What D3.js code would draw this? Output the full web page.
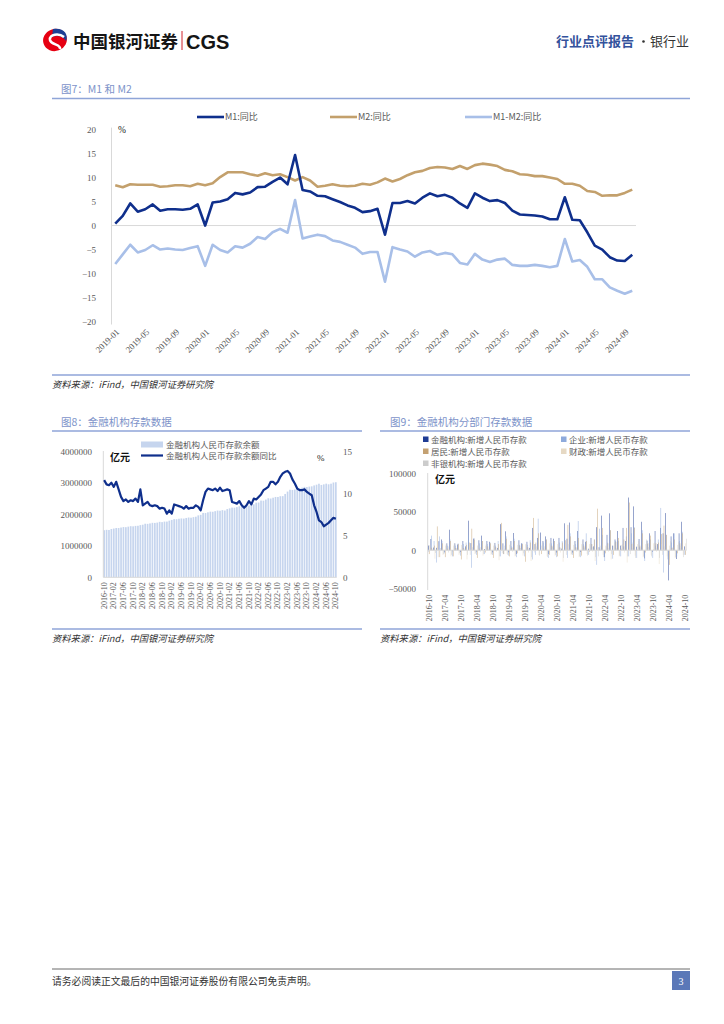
<!DOCTYPE html>
<html>
<head>
<meta charset="utf-8">
<script src="https://cdn.jsdelivr.net/npm/d3@7"></script>
<style>body{margin:0;background:#fff}svg{display:block}</style>
</head>
<body>
<svg id="page"></svg>
<script>
// ---- data ----
// Fig 7: M1 / M2 YoY (%), 2019-01 .. 2024-10
const m1Yoy = [0.4, 2.0, 4.6, 2.9, 3.4, 4.4, 3.1, 3.4, 3.4, 3.3, 3.5, 4.4,
  0.0, 4.8, 5.0, 5.5, 6.8, 6.5, 6.9, 8.0, 8.1, 9.1, 10.0, 8.6,
  14.7, 7.4, 7.1, 6.2, 6.1, 5.5, 4.9, 4.2, 3.7, 2.8, 3.0, 3.5,
  -1.9, 4.7, 4.7, 5.1, 4.6, 5.8, 6.7, 6.1, 6.4, 5.8, 4.6, 3.7,
  6.7, 5.8, 5.1, 5.3, 4.7, 3.1, 2.3, 2.2, 2.1, 1.9, 1.3, 1.3,
  5.9, 1.2, 1.1, -1.4, -4.2, -5.0, -6.6, -7.3, -7.4, -6.1];
const m2Yoy = [8.4, 8.0, 8.6, 8.5, 8.5, 8.5, 8.1, 8.2, 8.4, 8.4, 8.2, 8.7,
  8.4, 8.8, 10.1, 11.1, 11.1, 11.1, 10.7, 10.4, 10.9, 10.5, 10.7, 10.1,
  9.4, 10.1, 9.4, 8.1, 8.3, 8.6, 8.3, 8.2, 8.3, 8.7, 8.5, 9.0,
  9.8, 9.2, 9.7, 10.5, 11.1, 11.4, 12.0, 12.2, 12.1, 11.8, 12.4, 11.8,
  12.6, 12.9, 12.7, 12.4, 11.6, 11.3, 10.7, 10.6, 10.3, 10.3, 10.0, 9.7,
  8.7, 8.7, 8.3, 7.2, 7.0, 6.2, 6.3, 6.3, 6.8, 7.5];
const gapYoy = [-8.0, -6.0, -4.0, -5.6, -5.1, -4.1, -5.0, -4.8, -5.0, -5.1, -4.7, -4.3,
  -8.4, -4.0, -5.1, -5.6, -4.3, -4.6, -3.8, -2.4, -2.8, -1.4, -0.7, -1.5,
  5.3, -2.7, -2.3, -1.9, -2.2, -3.1, -3.4, -4.0, -4.6, -5.9, -5.5, -5.5,
  -11.7, -4.5, -5.0, -5.4, -6.5, -5.6, -5.3, -6.1, -5.7, -6.0, -7.8, -8.1,
  -5.9, -7.1, -7.6, -7.1, -6.9, -8.2, -8.4, -8.4, -8.2, -8.4, -8.7, -8.4,
  -2.8, -7.5, -7.2, -8.6, -11.2, -11.2, -12.9, -13.6, -14.2, -13.6];
const ticks7 = [20, 15, 10, 5, 0, -5, -10, -15, -20];

// Fig 8: RMB deposit balance (亿元) and YoY (%), 2016-10 .. 2024-10
const depBalance = [1500000, 1512000, 1506000,
  1538000, 1553000, 1570000, 1569000, 1585000, 1600000, 1596000, 1613000, 1628000, 1623000, 1637000, 1641000,
  1662000, 1675000, 1706000, 1702000, 1716000, 1735000, 1732000, 1742000, 1766000, 1757000, 1774000, 1775000,
  1804000, 1827000, 1853000, 1850000, 1865000, 1875000, 1870000, 1890000, 1904000, 1898000, 1916000, 1929000,
  1972000, 1989000, 2050000, 2046000, 2070000, 2091000, 2087000, 2106000, 2126000, 2120000, 2139000, 2126000,
  2173000, 2196000, 2220000, 2217000, 2236000, 2262000, 2256000, 2276000, 2290000, 2285000, 2304000, 2323000,
  2377000, 2381000, 2444000, 2440000, 2476000, 2517000, 2509000, 2535000, 2559000, 2558000, 2583000, 2585000,
  2654000, 2730000, 2788000, 2781000, 2796000, 2836000, 2833000, 2855000, 2880000, 2875000, 2889000, 2897000,
  2926000, 2950000, 2980000, 2941000, 2960000, 2982000, 2962000, 2981000, 3019000, 3028000];
const depYoy = [11.6, 11.1, 11.0,
  11.3, 10.8, 11.4, 10.5, 9.6, 9.1, 9.3, 9.0, 9.2, 9.1, 9.4, 9.0,
  10.5, 8.6, 8.8, 9.0, 8.6, 8.5, 8.6, 8.5, 8.2, 8.3, 8.2, 7.6,
  8.0, 7.6, 8.7, 8.6, 8.5, 8.4, 8.2, 8.5, 8.2, 8.3, 8.3, 8.6,
  8.4, 8.0, 9.2, 10.2, 10.6, 10.5, 10.4, 10.6, 10.3, 10.7, 10.3, 10.4,
  10.5, 10.4, 9.0, 8.9, 8.8, 9.1, 8.6, 8.3, 8.6, 9.1, 8.7, 9.4,
  9.3, 9.6, 9.9, 10.4, 10.6, 10.8, 11.4, 11.4, 11.1, 11.4, 12.0, 12.4,
  12.6, 12.7, 12.4, 11.7, 11.2, 10.6, 10.4, 10.4, 10.5, 10.2, 10.0, 9.8,
  8.6, 7.8, 6.8, 6.6, 6.1, 6.3, 6.5, 6.8, 7.1, 7.0];
const ticks8L = [0, 1000000, 2000000, 3000000, 4000000];
const ticks8R = [0, 5, 10, 15];

// Fig 9: new RMB deposits by sector (亿元), 2016-10 .. 2024-10
const newTotal = [6100, 14600, 3500,
  3100, 11800, 14000, -2000, 9000, 26700, -1200, 9000, 7500, -2300, 12000, 5000,
  38400, 9300, 15000, -1700, 13000, 19000, 1600, 12000, 11000, -2700, 9500, 3000,
  33900, 9000, 24600, -2700, 12000, 22400, -4900, 13000, 9000, -1000, 11000, 3000,
  29000, 8000, 16000, 23000, 12000, 18000, -5000, 16000, 15000, -3000, 16000, 2000,
  35000, 15000, 36000, -3000, 12000, 25000, -2200, 14000, 11000, 2000, 16000, 5000,
  30000, 4000, 45000, -9000, 20000, 48000, 6000, 14000, 25000, 6000, 29000, 12000,
  68500, 30000, 57000, 4600, 14600, 37000, -10600, 12500, 22000, -2000, 25000, 8000,
  29000, 22000, 48300, -39200, 18000, 22000, -11400, 22000, 37000, 5000];
const newCorp = [-1800, 19000, 12000,
  -16000, 18000, 12000, -4000, 6000, 14000, -8000, 6000, 9000, -7000, 8000, 10000,
  20000, -22800, 16000, -6000, 9000, 12000, -5000, 8000, 10000, -6000, 6000, 12000,
  -8000, -5000, 18000, -7000, 5000, 15000, -9000, 7000, 9000, -8000, 7000, 13000,
  -12000, -6000, 41000, 10000, 10000, 14000, -10000, 9000, 12000, -9000, 10000, 12000,
  20000, -10000, 22000, -6000, 8000, 38000, -9000, 8000, 22000, -6000, 8000, 14000,
  -19000, 28000, 20000, -14000, 10000, 26000, -11000, 12000, 12000, -8000, 5000, 18000,
  -8000, 22000, 30000, -10000, 4000, 26000, -14000, 8000, 14000, -10000, 6000, 14000,
  55000, -29000, 20000, -12000, 10000, 22000, -8000, 12000, 24000, -6000];
const newHouse = [-5000, 3300, 6000,
  31000, -9000, 9000, -9000, 2000, 12000, -8000, 3000, 8000, -12000, 3000, 7000,
  10000, 28000, 14000, -10000, 2000, 12000, -3000, 5000, 9000, -10000, 4000, 8000,
  35600, -5000, 15000, -8000, 3000, 12000, -4000, 6000, 8000, -15000, 4000, 10000,
  42000, 10000, 22000, -5000, 2000, 14000, -6000, 6000, 12000, -8000, 4000, 10000,
  13000, 33000, 18000, -10000, 4000, 16000, -7000, 6000, 12000, -2000, 8000, 14000,
  54000, 2000, 29000, -4000, 9000, 26000, -6000, 11000, 16000, 2000, 14000, 29000,
  62000, 8000, 29000, 1000, 6000, 22000, -3000, 9000, 19000, 1000, 9000, 10000,
  21000, 32000, 20000, -19000, 3000, 14000, -4000, 9000, 22000, -6000];
const newFiscal = [6400, -1000, -11000,
  5000, 2500, -6000, 6000, 5000, -8000, 6000, 3000, -6000, 7000, -1000, -12000,
  8000, 1000, -5000, 6000, 4000, -7000, 6000, 2000, -6000, 6000, -2000, -13000,
  9000, 2000, -5000, 7000, 4000, -8000, 7000, 3000, -7000, 8000, -3000, -14000,
  7000, 1000, -6000, 6000, 5000, -8000, 9000, 5000, -7000, 8000, -3000, -15000,
  8000, 2000, -6000, 7000, 3000, -9000, 8000, 4000, -5000, 8000, -2000, -14000,
  9000, 1000, -6000, 6000, -2000, -12000, 6000, 3000, -8000, 7000, -3000, -16000,
  7000, 3000, -7000, 8000, 4000, -9000, 8000, 4000, -6000, 9000, -2000, -18000,
  8000, 2000, -8000, 6000, 3000, -10000, 7000, 3000, -6000, 9000];
const newNonbank = [6600, 1500, -3600,
  -9000, 3000, -5000, 8000, -3000, -6000, 9000, 2000, -4000, 7000, 1000, -6000,
  -6000, 4000, -4000, 7000, -2000, -5000, 8000, 1000, -5000, 9000, -1000, -8000,
  -4000, 6000, -6000, 8000, -2000, -7000, 10000, 3000, -4000, 7000, 2000, -9000,
  -3000, 5000, -7000, 9000, -1000, -9000, 12000, 4000, -6000, 10000, 3000, -10000,
  -6000, 8000, -5000, 11000, -2000, -8000, 12000, 3000, -7000, 9000, 4000, -9000,
  -8000, 6000, -9000, 5000, 3000, -5000, 10000, 2000, -7000, 8000, 5000, -8000,
  -5000, 10000, -10000, 12000, 2000, -8000, 14000, 4000, -8000, 10000, 3000, -10000,
  -6000, 5000, -12000, 12000, 4000, -9000, 11000, 6000, -9000, 15000];
const ticks9 = [-50000, 0, 50000, 100000];
const sectorNames = ["金融机构:新增人民币存款", "企业:新增人民币存款", "居民:新增人民币存款",
  "财政:新增人民币存款", "非银机构:新增人民币存款"];

// month category labels
const fmtMonth = d3.timeFormat("%Y-%m");
const months7 = d3.timeMonth.range(new Date(2019, 0, 1), new Date(2024, 10, 1)).map(fmtMonth);
const months8 = d3.timeMonth.range(new Date(2016, 9, 1), new Date(2024, 10, 1)).map(fmtMonth);

// ---- style ----
const cjk = '"Noto Sans CJK SC", "Noto Sans", sans-serif';
const serifNum = '"Liberation Serif", "DejaVu Serif", serif';
const navy = "#0f2f8c", tan = "#c3a06c", lightBlue = "#a8bfe8";
const titleBlue = "#7d93c9", ruleBlue = "#8fa5d8", tickGrey = "#595959";

const svg = d3.select("#page")
    .attr("width", 724).attr("height", 1024)
    .attr("viewBox", [0, 0, 724, 1024]);
svg.append("rect").attr("width", 724).attr("height", 1024).attr("fill", "#fff");

// ---- header ----
const logo = svg.append("g").attr("transform", "translate(55,40)");
logo.append("ellipse").attr("rx", 12).attr("ry", 11).attr("fill", "#e60012")
    .attr("transform", "rotate(-20)");
logo.append("path").attr("d", "M-2,-11 C8,-13 14,-6 11,1 C8,-4 2,-5 -3,-3 Z").attr("fill", "#1d3f94");
logo.append("path").attr("d", "M9,-3 C4,-7 -6,-6 -5,0 C-4,5 6,4 5,9")
    .attr("fill", "none").attr("stroke", "#fff").attr("stroke-width", 2.6);

svg.append("text").attr("x", 73).attr("y", 48).text("中国银河证券")
    .attr("font-family", cjk).attr("font-weight", 700).attr("font-size", 17.5).attr("fill", "#151515");
svg.append("line").attr("x1", 182).attr("x2", 182).attr("y1", 31).attr("y2", 50)
    .attr("stroke", "#d2232a").attr("stroke-width", 1);
svg.append("text").attr("x", 186).attr("y", 48.5).text("CGS")
    .attr("font-family", '"Liberation Sans", Arial, sans-serif').attr("font-weight", 700)
    .attr("font-size", 20).attr("fill", "#151515");

svg.append("text").attr("x", 556).attr("y", 46).text("行业点评报告")
    .attr("font-family", cjk).attr("font-weight", 700).attr("font-size", 13).attr("fill", "#33529c");
svg.append("circle").attr("cx", 643.5).attr("cy", 41.5).attr("r", 1.3).attr("fill", "#333");
svg.append("text").attr("x", 650).attr("y", 46).text("银行业")
    .attr("font-family", cjk).attr("font-size", 13).attr("fill", "#333");

// section helpers
function figTitle(x, y, x1, x2, label) {
  svg.append("text").attr("x", x).attr("y", y).text(label)
      .attr("font-family", cjk).attr("font-size", 10.5).attr("fill", titleBlue);
  svg.append("line").attr("x1", x1).attr("x2", x2).attr("y1", y + 5.5).attr("y2", y + 5.5)
      .attr("stroke", ruleBlue).attr("stroke-width", 1.5);
}
function sourceNote(x1, x2, y) {
  svg.append("line").attr("x1", x1).attr("x2", x2).attr("y1", y).attr("y2", y)
      .attr("stroke", ruleBlue).attr("stroke-width", 1.5);
  svg.append("text").attr("x", x1).attr("y", y + 13).text("资料来源：iFind，中国银河证券研究院")
      .attr("font-family", cjk).attr("font-size", 9.3).attr("font-style", "italic").attr("fill", "#333");
}

// ---- Fig 7 ----
figTitle(61, 93, 52, 690, "图7：M1 和 M2");

const x7 = d3.scaleBand().domain(months7).range([111.5, 636]);
const y7 = d3.scaleLinear().domain([-20, 20]).range([321.5, 129.6]);
const cx7 = d => x7(d) + x7.bandwidth() / 2;

svg.append("line").attr("x1", 111.5).attr("x2", 111.5).attr("y1", y7(20) - 2).attr("y2", y7(-20) + 3)
    .attr("stroke", "#d9d9d9");
svg.append("line").attr("x1", 111.5).attr("x2", 636).attr("y1", y7(0)).attr("y2", y7(0))
    .attr("stroke", "#d9d9d9");

svg.append("g")
    .attr("transform", "translate(96,0)")
    .call(d3.axisLeft(y7).tickValues(ticks7).tickSize(0).tickPadding(0))
    .call(g => g.select(".domain").remove())
    .call(g => g.selectAll("text").attr("font-family", serifNum).attr("font-size", 9).attr("fill", tickGrey));
svg.append("text").attr("x", 118).attr("y", 133).text("%")
    .attr("font-family", serifNum).attr("font-size", 9.5).attr("fill", "#222");

svg.append("g")
    .attr("transform", "translate(0,325)")
    .call(d3.axisBottom(x7).tickValues(months7.filter((d, i) => i % 4 === 0)).tickSize(0))
    .call(g => g.select(".domain").remove())
    .call(g => g.selectAll("text")
        .attr("font-family", serifNum).attr("font-size", 8.8).attr("fill", tickGrey)
        .attr("text-anchor", "end").attr("x", -2).attr("y", 6).attr("dy", "0.3em")
        .attr("transform", "rotate(-45)"));

const series7 = [
  {name: "M1:同比", values: m1Yoy, color: navy},
  {name: "M2:同比", values: m2Yoy, color: tan},
  {name: "M1-M2:同比", values: gapYoy, color: lightBlue}
];
const line7 = d3.line().x((d, i) => cx7(months7[i])).y(d => y7(d));
svg.append("g").selectAll("path")
  .data(series7.slice().reverse())
  .join("path")
    .attr("d", s => line7(s.values))
    .attr("fill", "none").attr("stroke", s => s.color)
    .attr("stroke-width", 2.6).attr("stroke-linejoin", "round");

const leg7x = [197, 330, 465];
series7.forEach((s, i) => {
  svg.append("line").attr("x1", leg7x[i]).attr("x2", leg7x[i] + 27).attr("y1", 117).attr("y2", 117)
      .attr("stroke", s.color).attr("stroke-width", 2.6);
  svg.append("text").attr("x", leg7x[i] + 28).attr("y", 120.3).text(s.name)
      .attr("font-family", cjk).attr("font-size", 9).attr("fill", tickGrey);
});

sourceNote(52, 690, 375);

// ---- Fig 8 ----
figTitle(61, 425.5, 52, 362, "图8：金融机构存款数据");

const x8 = d3.scaleBand().domain(months8).range([103.3, 336.7]).paddingInner(0.3);
const y8L = d3.scaleLinear().domain([0, 4000000]).range([577.3, 451.7]);
const y8R = d3.scaleLinear().domain([0, 15]).range([577.3, 451.7]);

svg.append("g").selectAll("rect")
  .data(depBalance)
  .join("rect")
    .attr("x", (d, i) => x8(months8[i]))
    .attr("width", x8.bandwidth())
    .attr("y", d => y8L(d))
    .attr("height", d => y8L(0) - y8L(d))
    .attr("fill", "#c6d5ee");

svg.append("line").attr("x1", 103.3).attr("x2", 103.3).attr("y1", 451).attr("y2", 577.3).attr("stroke", "#d9d9d9");
svg.append("line").attr("x1", 103.3).attr("x2", 336.7).attr("y1", 577.3).attr("y2", 577.3).attr("stroke", "#d9d9d9");

svg.append("path")
    .attr("d", d3.line().x((d, i) => x8(months8[i]) + x8.bandwidth() / 2).y(d => y8R(d))(depYoy))
    .attr("fill", "none").attr("stroke", navy).attr("stroke-width", 2.2).attr("stroke-linejoin", "round");

svg.append("g")
    .attr("transform", "translate(92,0)")
    .call(d3.axisLeft(y8L).tickValues(ticks8L).tickSize(0).tickPadding(0).tickFormat(d3.format("d")))
    .call(g => g.select(".domain").remove())
    .call(g => g.selectAll("text").attr("font-family", serifNum).attr("font-size", 9).attr("fill", tickGrey));
svg.append("g")
    .attr("transform", "translate(343,0)")
    .call(d3.axisRight(y8R).tickValues(ticks8R).tickSize(0).tickPadding(0))
    .call(g => g.select(".domain").remove())
    .call(g => g.selectAll("text").attr("font-family", serifNum).attr("font-size", 9).attr("fill", tickGrey));

svg.append("g")
    .attr("transform", "translate(0,577.3)")
    .call(d3.axisBottom(x8).tickValues(months8.filter((d, i) => i % 4 === 0)).tickSize(0))
    .call(g => g.select(".domain").remove())
    .call(g => g.selectAll("text")
        .attr("font-family", serifNum).attr("font-size", 8).attr("fill", tickGrey)
        .attr("text-anchor", "end").attr("x", -5).attr("y", 0).attr("dy", "0.32em")
        .attr("transform", "rotate(-90)"));

svg.append("text").attr("x", 110).attr("y", 461).text("亿元")
    .attr("font-family", cjk).attr("font-weight", 700).attr("font-size", 10).attr("fill", "#111");
svg.append("text").attr("x", 317).attr("y", 461).text("%")
    .attr("font-family", serifNum).attr("font-size", 9).attr("fill", "#222");

svg.append("rect").attr("x", 141).attr("y", 441.5).attr("width", 22).attr("height", 6).attr("fill", "#c6d5ee");
svg.append("text").attr("x", 166).attr("y", 447.5).text("金融机构人民币存款余额")
    .attr("font-family", cjk).attr("font-size", 8.5).attr("fill", tickGrey);
svg.append("line").attr("x1", 141).attr("x2", 163).attr("y1", 455.5).attr("y2", 455.5)
    .attr("stroke", navy).attr("stroke-width", 2.2);
svg.append("text").attr("x", 166).attr("y", 458.5).text("金融机构人民币存款余额同比")
    .attr("font-family", cjk).attr("font-size", 8.5).attr("fill", tickGrey);

sourceNote(52, 362, 629);

// ---- Fig 9 ----
figTitle(390, 425.5, 380, 690, "图9：金融机构分部门存款数据");

const sectors = [
  {name: sectorNames[0], values: newTotal, color: "#1f3c94"},
  {name: sectorNames[1], values: newCorp, color: "#8eaadc"},
  {name: sectorNames[2], values: newHouse, color: "#c4a172"},
  {name: sectorNames[3], values: newFiscal, color: "#e6d9c4"},
  {name: sectorNames[4], values: newNonbank, color: "#cccccc"}
];
const x9 = d3.scaleBand().domain(months8).range([428, 686.5]).paddingInner(0.12);
const x9s = d3.scaleBand().domain(d3.range(sectors.length)).range([0, x9.bandwidth()]);
const y9 = d3.scaleLinear().domain([-50000, 100000]).range([588.7, 473.3]);

svg.append("line").attr("x1", 427.7).attr("x2", 427.7).attr("y1", 473).attr("y2", 590).attr("stroke", "#d9d9d9");

svg.append("g").selectAll("g")
  .data(sectors)
  .join("g")
    .attr("fill", s => s.color)
  .selectAll("rect")
  .data((s, k) => s.values.map((v, i) => ({v, i, k})))
  .join("rect")
    .attr("x", d => x9(months8[d.i]) + x9s(d.k))
    .attr("width", x9s.bandwidth())
    .attr("y", d => y9(Math.max(0, d.v)))
    .attr("height", d => Math.abs(y9(d.v) - y9(0)));

svg.append("line").attr("x1", 427.7).attr("x2", 686.5).attr("y1", y9(0)).attr("y2", y9(0))
    .attr("stroke", "#d9d9d9");

svg.append("g")
    .attr("transform", "translate(416,0)")
    .call(d3.axisLeft(y9).tickValues(ticks9).tickSize(0).tickPadding(0).tickFormat(d3.format("d")))
    .call(g => g.select(".domain").remove())
    .call(g => g.selectAll("text").attr("font-family", serifNum).attr("font-size", 9).attr("fill", tickGrey));

svg.append("g")
    .attr("transform", "translate(0,588.7)")
    .call(d3.axisBottom(x9).tickValues(months8.filter((d, i) => i % 6 === 0)).tickSize(0))
    .call(g => g.select(".domain").remove())
    .call(g => g.selectAll("text")
        .attr("font-family", serifNum).attr("font-size", 8).attr("fill", tickGrey)
        .attr("text-anchor", "end").attr("x", -6).attr("y", 0).attr("dy", "0.32em")
        .attr("transform", "rotate(-90)"));

svg.append("text").attr("x", 435).attr("y", 483).text("亿元")
    .attr("font-family", cjk).attr("font-weight", 700).attr("font-size", 10).attr("fill", "#111");

const leg9 = [[423, 439.5], [561, 439.5], [423, 451.5], [561, 451.5], [423, 463.5]];
sectors.forEach((s, i) => {
  svg.append("rect").attr("x", leg9[i][0]).attr("y", leg9[i][1] - 3).attr("width", 5.5).attr("height", 5.5)
      .attr("fill", s.color);
  svg.append("text").attr("x", leg9[i][0] + 8).attr("y", leg9[i][1] + 3).text(s.name)
      .attr("font-family", cjk).attr("font-size", 8.5).attr("fill", tickGrey);
});

sourceNote(380, 690, 629);

// ---- footer ----
svg.append("line").attr("x1", 52).attr("x2", 690).attr("y1", 969).attr("y2", 969)
    .attr("stroke", "#6b6b6b").attr("stroke-width", 1);
svg.append("text").attr("x", 52).attr("y", 985).text("请务必阅读正文最后的中国银河证券股份有限公司免责声明。")
    .attr("font-family", cjk).attr("font-size", 9.8).attr("fill", "#333");
svg.append("rect").attr("x", 672).attr("y", 971).attr("width", 18).attr("height", 19).attr("fill", "#5b78b8");
svg.append("text").attr("x", 681).attr("y", 984.5).text("3").attr("text-anchor", "middle")
    .attr("font-family", serifNum).attr("font-size", 10).attr("fill", "#fff");
</script>
</body>
</html>
